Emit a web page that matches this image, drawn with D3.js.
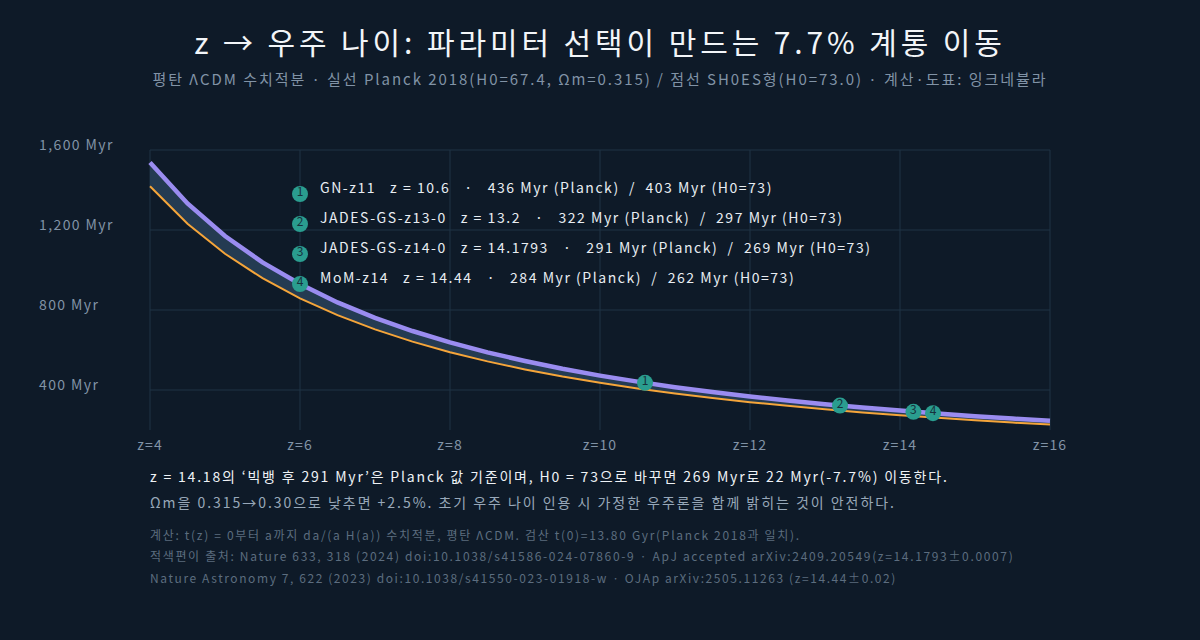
<!DOCTYPE html>
<html>
<head>
<meta charset="utf-8">
<script src="https://cdn.jsdelivr.net/npm/d3@7"></script>
<style>
  html, body { margin: 0; padding: 0; background: #0e1a28; }
  svg { display: block; font-family: "Noto Sans CJK KR", "Noto Sans", sans-serif; letter-spacing: 0.12em; }
</style>
</head>
<body>
<svg id="chart"></svg>
<script>
// redshift grid and ages (Myr)
const redshifts = [4, 4.5, 5, 5.5, 6, 6.5, 7, 7.5, 8, 8.5, 9, 9.5, 10, 10.5, 11, 11.5, 12, 12.5, 13, 13.5, 14, 14.5, 15, 15.5, 16];
const agePlanck = [1537, 1333, 1170, 1038, 930, 838, 761, 695, 638, 588, 545, 506, 472, 442, 414, 390, 368, 347, 329, 312, 297, 282, 269, 257, 246];
const ageH073 = [1419, 1231, 1081, 959, 858, 774, 703, 642, 589, 543, 503, 467, 436, 408, 383, 360, 339, 321, 304, 288, 274, 261, 249, 237, 227];

// galaxies
const galNames = ["GN-z11", "JADES-GS-z13-0", "JADES-GS-z14-0", "MoM-z14"];
const galZ = [10.6, 13.2, 14.1793, 14.44];
const galZText = ["10.6", "13.2", "14.1793", "14.44"];
const galPlanck = [436, 322, 291, 284];
const galH073 = [403, 297, 269, 262];

const xTicks = [4, 6, 8, 10, 12, 14, 16];
const yTicks = [400, 800, 1200, 1600];

const W = 1200, H = 640;
const margin = { top: 150, right: 150, bottom: 210, left: 150 };

const svg = d3.select("#chart").attr("width", W).attr("height", H);
svg.append("rect").attr("width", W).attr("height", H).attr("fill", "#0e1a28");

const x = d3.scaleLinear().domain([4, 16]).range([margin.left, W - margin.right]);
const y = d3.scaleLinear().domain([200, 1600]).range([H - margin.bottom, margin.top]);

// title
svg.append("text")
    .attr("x", W / 2).attr("y", 54)
    .attr("text-anchor", "middle")
    .attr("fill", "#f2f5f8")
    .style("font-size", "30px")
    .style("letter-spacing", "3.9px")
    .text("z → 우주 나이: 파라미터 선택이 만드는 7.7% 계통 이동");

svg.append("text")
    .attr("x", W / 2).attr("y", 85)
    .attr("text-anchor", "middle")
    .attr("fill", "#8193a6")
    .style("font-size", "15px")
    .style("letter-spacing", "0.13em")
    .text("평탄 ΛCDM 수치적분 · 실선 Planck 2018(H0=67.4, Ωm=0.315) / 점선 SH0ES형(H0=73.0) · 계산·도표: 잉크네뷸라");

// grid
const grid = svg.append("g");
grid.selectAll(".hg").data(yTicks).enter().append("line")
    .attr("x1", x(4)).attr("x2", x(16))
    .attr("y1", d => y(d)).attr("y2", d => y(d))
    .attr("stroke", "#1f3345").attr("stroke-width", 1);
grid.selectAll(".vg").data(xTicks).enter().append("line")
    .attr("x1", d => x(d)).attr("x2", d => x(d))
    .attr("y1", y(1600)).attr("y2", y(200))
    .attr("stroke", "#1f3345").attr("stroke-width", 1);

// axis labels
svg.append("g").selectAll("text").data(yTicks).enter().append("text")
    .attr("x", 39).attr("y", d => y(d))
    .attr("fill", "#8193a6")
    .style("font-size", "14px")
    .style("letter-spacing", "0.1em")
    .text(d => d3.format(",")(d) + " Myr");

svg.append("g").selectAll("text").data(xTicks).enter().append("text")
    .attr("x", d => x(d)).attr("y", 450)
    .attr("text-anchor", "middle")
    .attr("fill", "#8193a6")
    .style("font-size", "14px")
    .style("letter-spacing", "0.08em")
    .text(d => "z=" + d);

// band + curves
const rows = redshifts.map((z, i) => ({ z, p: agePlanck[i], h: ageH073[i] }));

svg.append("path").datum(rows)
    .attr("fill", "#243b52")
    .attr("d", d3.area().x(d => x(d.z)).y0(d => y(d.h)).y1(d => y(d.p)));

svg.append("path").datum(rows)
    .attr("fill", "none").attr("stroke", "#f5a53a").attr("stroke-width", 2)
    .attr("d", d3.line().x(d => x(d.z)).y(d => y(d.h)));

svg.append("path").datum(rows)
    .attr("fill", "none").attr("stroke", "#9a8cf0").attr("stroke-width", 4.5)
    .attr("d", d3.line().x(d => x(d.z)).y(d => y(d.p)));

// galaxy markers on the Planck curve
const gals = galNames.map((n, i) => ({ n, i, z: galZ[i], p: galPlanck[i] }));
const mk = svg.append("g").selectAll("g").data(gals).enter().append("g")
    .attr("transform", d => `translate(${x(d.z)},${y(d.p)})`);
mk.append("circle").attr("r", 8).attr("fill", "#2a9d8f");
mk.append("text").attr("y", 2).attr("text-anchor", "middle")
    .attr("fill", "#17313d").style("font-size", "12px").style("letter-spacing", "0")
    .text(d => d.i + 1);

// legend list
const leg = svg.append("g").selectAll("g").data(gals).enter().append("g")
    .attr("transform", d => `translate(${x(6)},${194 + d.i * 30})`);
leg.append("circle").attr("r", 8).attr("fill", "#2a9d8f");
leg.append("text").attr("y", 2).attr("text-anchor", "middle")
    .attr("fill", "#17313d").style("font-size", "12px").style("letter-spacing", "0")
    .text(d => d.i + 1);
leg.append("text")
    .attr("x", 20).attr("y", -1)
    .attr("fill", "#e8edf2")
    .style("font-size", "14px")
    .style("letter-spacing", "0.11em")
    .style("white-space", "pre")
    .text(d => `${d.n}   z = ${galZText[d.i]}   ·   ${galPlanck[d.i]} Myr (Planck)  /  ${galH073[d.i]} Myr (H0=73)`);

// notes
const notes = [
    { t: "z = 14.18의 ‘빅뱅 후 291 Myr’은 Planck 값 기준이며, H0 = 73으로 바꾸면 269 Myr로 22 Myr(-7.7%) 이동한다.", y: 482, c: "#eef2f6", s: 14, ls: "0.13em" },
    { t: "Ωm을 0.315→0.30으로 낮추면 +2.5%. 초기 우주 나이 인용 시 가정한 우주론을 함께 밝히는 것이 안전하다.", y: 508, c: "#98a8b9", s: 14, ls: "0.14em" },
    { t: "계산: t(z) = 0부터 a까지 da/(a H(a)) 수치적분, 평탄 ΛCDM. 검산 t(0)=13.80 Gyr(Planck 2018과 일치).", y: 540, c: "#5c6d7f", s: 12, ls: "0.14em" },
    { t: "적색편이 출처: Nature 633, 318 (2024) doi:10.1038/s41586-024-07860-9 · ApJ accepted arXiv:2409.20549(z=14.1793±0.0007)", y: 561, c: "#5c6d7f", s: 12, ls: "0.138em" },
    { t: "Nature Astronomy 7, 622 (2023) doi:10.1038/s41550-023-01918-w · OJAp arXiv:2505.11263 (z=14.44±0.02)", y: 583, c: "#5c6d7f", s: 12, ls: "0.132em" }
];
svg.append("g").selectAll("text").data(notes).enter().append("text")
    .attr("x", 150).attr("y", d => d.y)
    .attr("fill", d => d.c)
    .style("font-size", d => d.s + "px")
    .style("letter-spacing", d => d.ls)
    .text(d => d.t);
</script>
</body>
</html>
